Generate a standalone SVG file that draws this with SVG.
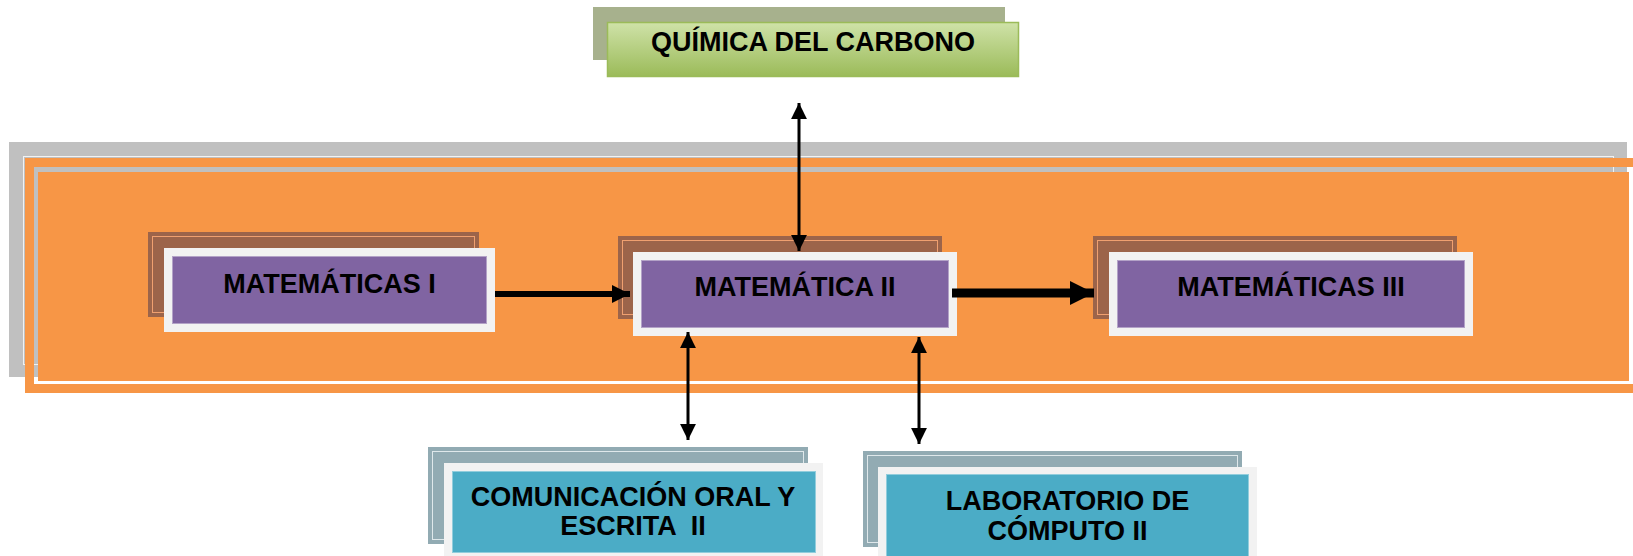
<svg xmlns="http://www.w3.org/2000/svg" width="1633" height="556" viewBox="0 0 1633 556">
<defs>
<style>
.t{font-family:"Liberation Sans",Arial,sans-serif;font-weight:bold;font-size:27px;fill:#000;text-anchor:middle}
.brown{fill:#9c644a}
.brownIn{fill:none;stroke:#f0a070;stroke-width:1}
.front{fill:#f2f2f2}
.purple{fill:#8064a2;stroke:#b3a2c7;stroke-width:1}
.slate{fill:#92abb3}
.slateIn{fill:none;stroke:#dfe8eb;stroke-width:1}
.blue{fill:#4bacc6;stroke:#92cddc;stroke-width:1}
.ln{stroke:#000;fill:none}
</style>
<linearGradient id="gg" x1="0" y1="0" x2="0" y2="1">
<stop offset="0" stop-color="#cfe2a8"/>
<stop offset="1" stop-color="#9bbb59"/>
</linearGradient>
<marker id="ah" viewBox="0 0 10 10" refX="10" refY="5" markerWidth="5.3" markerHeight="5.3" markerUnits="strokeWidth" orient="auto-start-reverse">
<path d="M0,0 L10,5 L0,10 z" fill="#000"/>
</marker>
<marker id="ah2" viewBox="0 0 10 10" refX="10" refY="5" markerWidth="3" markerHeight="3" markerUnits="strokeWidth" orient="auto">
<path d="M0,0 L10,5 L0,10 z" fill="#000"/>
</marker>
<marker id="ah3" viewBox="0 0 10 10" refX="10" refY="5" markerWidth="2.7" markerHeight="2.7" markerUnits="strokeWidth" orient="auto">
<path d="M0,0 L10,5 L0,10 z" fill="#000"/>
</marker>
</defs>
<rect width="1633" height="556" fill="#fff"/>

<g id="background">
<rect x="9" y="142" width="1618" height="235" fill="#c0c0c0"/>
<rect x="23.5" y="156.5" width="1590" height="208" fill="none" stroke="#f2f2f2" stroke-width="1"/>
<rect x="29.5" y="162.5" width="1620" height="226" fill="none" stroke="#f79646" stroke-width="9"/>
<rect x="38" y="172" width="1591" height="209" fill="#f79646"/>
</g>

<g id="quimica">
<rect x="593" y="7" width="412" height="53" fill="#a7b18d"/>
<rect x="607.5" y="22.5" width="411" height="54" fill="url(#gg)" stroke="#9bbb59" stroke-width="1.5"/>
<text class="t" x="813" y="51">QUÍMICA DEL CARBONO</text>
</g>

<g id="mat1">
<rect class="brown" x="148" y="232" width="331" height="85"/>
<rect class="brownIn" x="152.5" y="236.5" width="322" height="76"/>
<rect class="front" x="164" y="248" width="331" height="84"/>
<rect class="purple" x="172.5" y="256.5" width="314" height="67"/>
<text class="t" x="329.5" y="293">MATEMÁTICAS I</text>
</g>

<g id="mat2">
<rect class="brown" x="618" y="236" width="324" height="83"/>
<rect class="brownIn" x="622.5" y="240.5" width="315" height="74"/>
<rect class="front" x="633" y="252" width="324" height="84"/>
<rect class="purple" x="641.5" y="260.5" width="307" height="67"/>
<text class="t" x="795" y="296">MATEMÁTICA II</text>
</g>

<g id="mat3">
<rect class="brown" x="1093" y="236" width="364" height="83"/>
<rect class="brownIn" x="1097.5" y="240.5" width="355" height="74"/>
<rect class="front" x="1109" y="252" width="364" height="84"/>
<rect class="purple" x="1117.5" y="260.5" width="347" height="67"/>
<text class="t" x="1291" y="296">MATEMÁTICAS III</text>
</g>

<g id="comunicacion">
<rect class="slate" x="428" y="447" width="380" height="97"/>
<rect class="slateIn" x="432.5" y="451.5" width="371" height="88"/>
<rect class="front" x="444" y="463" width="379" height="93"/>
<rect class="blue" x="452.5" y="471.5" width="363" height="81"/>
<text class="t" x="633" y="506">COMUNICACIÓN ORAL Y</text>
<text class="t" x="633" y="535" xml:space="preserve">ESCRITA  II</text>
</g>

<g id="laboratorio">
<rect class="slate" x="863" y="451" width="379" height="96"/>
<rect class="slateIn" x="867.5" y="455.5" width="370" height="87"/>
<rect class="front" x="878" y="467" width="379" height="89"/>
<rect class="blue" x="886.5" y="474.5" width="362" height="82"/>
<text class="t" x="1067.5" y="510">LABORATORIO DE</text>
<text class="t" x="1067.5" y="540">CÓMPUTO II</text>
</g>

<g id="connectors">
<line class="ln" x1="495" y1="294" x2="630" y2="294" stroke-width="6" marker-end="url(#ah2)"/>
<line class="ln" x1="952" y1="293" x2="1094" y2="293" stroke-width="9" marker-end="url(#ah3)"/>
<line class="ln" x1="799" y1="103" x2="799" y2="251" stroke-width="3" marker-start="url(#ah)" marker-end="url(#ah)"/>
<line class="ln" x1="688" y1="332" x2="688" y2="440" stroke-width="3" marker-start="url(#ah)" marker-end="url(#ah)"/>
<line class="ln" x1="919" y1="337" x2="919" y2="444" stroke-width="3" marker-start="url(#ah)" marker-end="url(#ah)"/>
</g>
</svg>
